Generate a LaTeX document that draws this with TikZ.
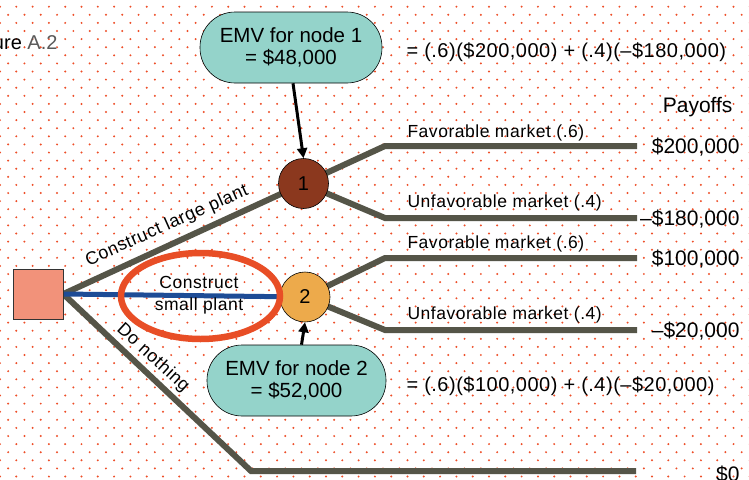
\documentclass[tikz,border=0pt]{standalone}
\usepackage{fontspec}
\setmainfont{Liberation Sans}
\newfontfamily\spacedfont[LetterSpace=3.0]{Liberation Sans}
\newfontfamily\eqfont[LetterSpace=2.5]{Liberation Sans}
\usetikzlibrary{arrows.meta,backgrounds,shapes.geometric}
\definecolor{dotc}{RGB}{238,78,40}
\definecolor{linec}{RGB}{85,85,72}
\definecolor{bluec}{RGB}{30,76,150}
\definecolor{ellc}{RGB}{232,78,38}
\definecolor{nodeonec}{RGB}{139,56,30}
\definecolor{nodetwoc}{RGB}{237,170,75}
\definecolor{sqc}{RGB}{242,146,122}
\definecolor{emvc}{RGB}{148,211,202}
\begin{document}
\begin{tikzpicture}[x=1pt,y=-1pt,
  branch/.style={draw=linec,line width=6pt},
  chance/.style={circle,draw=black,line width=0.6pt,minimum size=50pt,inner sep=0pt,font=\fontsize{20}{22}\selectfont},
  decision/.style={rectangle,draw=black!80,line width=0.6pt,fill=sqc,minimum size=50pt,inner sep=0pt},
  emvbox/.style={rectangle,rounded corners=35pt,draw=black,line width=0.6pt,fill=emvc,minimum width=182pt,minimum height=71pt,align=center,font=\fontsize{20.5}{21.5}\selectfont},
  lbl/.style={anchor=base west,font=\spacedfont\fontsize{17.5}{19}\selectfont},
  eqn/.style={anchor=base west,font=\eqfont\fontsize{20}{22}\selectfont},
  pay/.style={anchor=base east,font=\fontsize{21}{23}\selectfont},
  arr/.style={line width=3pt,-{Triangle[length=10pt,width=10pt]}}
]
\useasboundingbox (0,0) rectangle (749,479);
\begin{pgfonlayer}{background}
\fill[white] (0,0) rectangle (749,479);
\foreach \j in {0,...,58}{
  \foreach \i in {0,...,46}{
    \fill[dotc] ({16.3*\i+8.15*mod(\j,2)},{6.7+8.1*\j}) circle[radius=1.1pt];
  }
}
\end{pgfonlayer}

% nodes
\node[decision] (d) at (38,294) {};
\node[chance,fill=nodeonec] (n1) at (303.5,183.5) {1};
\node[chance,fill=nodetwoc] (n2) at (305,297) {2};
\node[emvbox] (emv1) at (291,47.5) {EMV for node 1\\= \$48,000};
\node[emvbox,minimum width=179pt] (emv2) at (296.5,380.5) {EMV for node 2\\= \$52,000};

\coordinate (a1) at (385,146); \coordinate (e1) at (637,146);
\coordinate (a2) at (385,218); \coordinate (e2) at (637,218);
\coordinate (b1) at (385,258); \coordinate (f1) at (637,258);
\coordinate (b2) at (385,330); \coordinate (f2) at (637,330);
\coordinate (c0) at (251,471); \coordinate (g0) at (636,471);

\begin{pgfonlayer}{background}
\draw[branch] (n1.center) -- (a1) -- (e1);
\draw[branch] (n1.center) -- (a2) -- (e2);
\draw[branch] (n2.center) -- (b1) -- (f1);
\draw[branch] (n2.center) -- (b2) -- (f2);
\draw[branch] (d.east) -- (n1.center);
\draw[branch] (d.east) -- (c0) -- (g0);
\draw[draw=bluec,line width=5pt] (d.east) -- (n2.center);
\end{pgfonlayer}

% circled choice
\node[ellipse,draw=ellc,line width=6.5pt,minimum width=159pt,minimum height=86pt,inner sep=0pt] (ell) at (200.5,296) {};
\node[align=center,font=\spacedfont\fontsize{17.5}{22}\selectfont] (small) at (199,295) {Construct\\small plant};

% arrows
\draw[arr] ([xshift=2pt]emv1.south) -- (n1.north);
\draw[arr] ([xshift=5pt]emv2.north) -- (n2.south);

% labels
\node[lbl] (t1) at (404,137) {Favorable market (.6)};
\node[lbl] (t2) at (404,207) {Unfavorable market (.4)};
\node[lbl] (t3) at (404,248) {Favorable market (.6)};
\node[lbl] (t4) at (404,319) {Unfavorable market (.4)};

\node[rotate=24,font=\spacedfont\fontsize{18}{20}\selectfont] (large) at (167,226) {Construct large plant};
\node[rotate=-42.5,font=\spacedfont\fontsize{18}{20}\selectfont] (nothing) at (153,358) {Do nothing};

\node[eqn] (eq1) at (403,57) {= (.6)(\$200,000) + (.4)(–\$180,000)};
\node[eqn] (eq2) at (403,391) {= (.6)(\$100,000) + (.4)(–\$20,000)};

\node[pay] (po) at (736,112) {Payoffs};
\node[pay] (p1) at (743,153) {\$200,000};
\node[pay] (p2) at (743,225) {–\$180,000};
\node[pay] (p3) at (743,265) {\$100,000};
\node[pay] (p4) at (743,337) {–\$20,000};
\node[pay] (p5) at (743,481) {\$0};

\node[anchor=base east,font=\fontsize{20}{22}\selectfont] (fig) at (61,49) {ure \textcolor{black!65}{A.2}};
\end{tikzpicture}
\end{document}
